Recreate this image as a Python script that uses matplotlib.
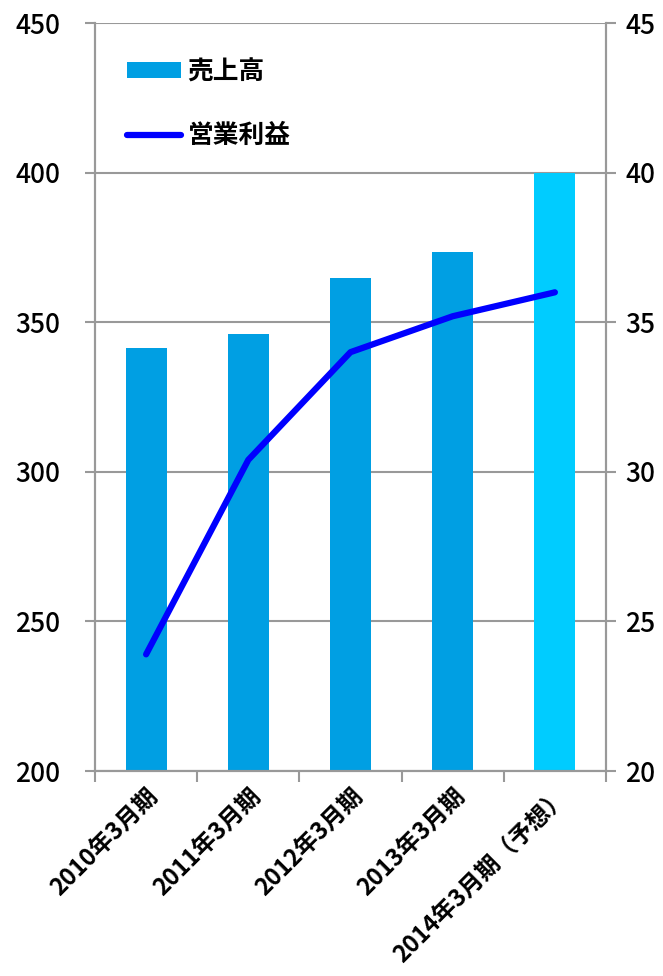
import matplotlib
matplotlib.use("Agg")
import matplotlib.pyplot as plt
from matplotlib.lines import Line2D
from matplotlib.patches import Patch

plt.rcParams["font.family"] = ["Noto Sans CJK JP", "DejaVu Sans"]

categories = ["2010年3月期", "2011年3月期", "2012年3月期", "2013年3月期", "2014年3月期（予想）"]
sales = [341.5, 346.0, 364.8, 373.6, 400.0]
operating_profit = [23.9, 30.4, 34.0, 35.2, 36.0]
left_ticks = [200, 250, 300, 350, 400, 450]
right_ticks = [20, 25, 30, 35, 40, 45]

BAR_COLOR = "#009FE3"
FORECAST_COLOR = "#00CCFF"
LINE_COLOR = "#0000FF"
GRID_COLOR = "#999999"

fig = plt.figure(figsize=(6.63, 9.76), dpi=100)
ax = fig.add_axes([0.1433, 0.21, 0.7707, 0.7664])
ax2 = ax.twinx()

x = list(range(len(categories)))
colors = [BAR_COLOR] * (len(categories) - 1) + [FORECAST_COLOR]
ax.bar(x, sales, width=0.4, color=colors, zorder=2)

ax.set_xlim(-0.5, len(categories) - 0.5)
ax.set_ylim(200, 450)
ax.set_yticks(left_ticks)
ax.yaxis.grid(True, color=GRID_COLOR, linewidth=1.5, zorder=0)
ax.set_axisbelow(True)

ax2.plot(x, operating_profit, color=LINE_COLOR, linewidth=4.5,
         solid_capstyle="round", solid_joinstyle="round", zorder=3)
ax2.set_ylim(20, 45)
ax2.set_yticks(right_ticks)

for a in (ax, ax2):
    a.spines["top"].set_visible(False)
    for side in ("left", "right", "bottom"):
        a.spines[side].set_color(GRID_COLOR)
        a.spines[side].set_linewidth(1.5)
    a.tick_params(axis="y", length=7, width=1.5, color=GRID_COLOR, labelsize=19)
    for lbl in a.get_yticklabels():
        lbl.set_fontweight("medium")
ax.tick_params(axis="y", pad=18)
ax2.tick_params(axis="y", pad=7)

# category boundary ticks on the bottom axis
ax.set_xticks([i - 0.5 for i in range(len(categories) + 1)], minor=False)
ax.set_xticklabels([])
ax.set_xticks(x, minor=True)
ax.set_xticklabels(categories, minor=True, rotation=45, ha="right",
                   rotation_mode="anchor", fontsize=17, fontweight="bold")
ax.tick_params(axis="x", which="major", length=8, width=1.5, color=GRID_COLOR)
ax.tick_params(axis="x", which="minor", length=0, pad=9)

handles = [
    Patch(facecolor=BAR_COLOR, label="売上高"),
    Line2D([0], [0], color=LINE_COLOR, linewidth=4.5, solid_capstyle="round", label="営業利益"),
]
leg = ax2.legend(handles=handles, loc="upper left", bbox_to_anchor=(0.018, 0.984),
                 frameon=False, handlelength=2.1, handleheight=0.6,
                 labelspacing=1.45, handletextpad=0.25,
                 prop={"size": 18.5, "weight": "bold"})

fig.savefig("out.png", dpi=100)
